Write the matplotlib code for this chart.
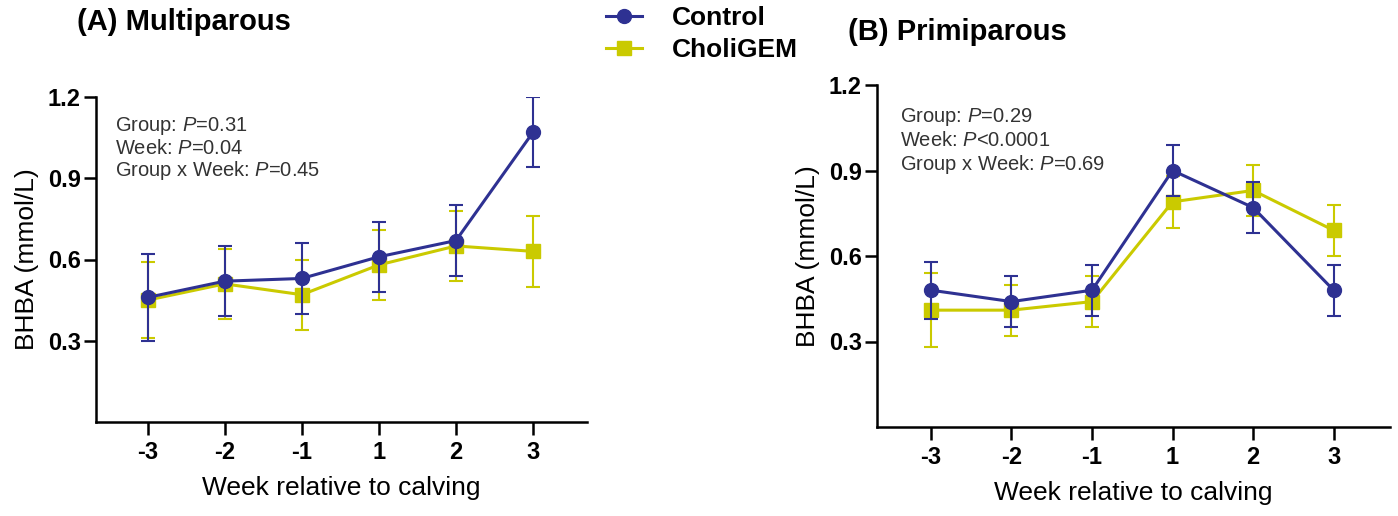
import matplotlib
matplotlib.use("Agg")
import matplotlib.pyplot as plt
from matplotlib.lines import Line2D

plt.rcParams['font.family'] = ['Liberation Sans', 'DejaVu Sans']
plt.rcParams['mathtext.fontset'] = 'custom'
plt.rcParams['mathtext.it'] = 'Liberation Sans:italic'
plt.rcParams['mathtext.rm'] = 'Liberation Sans'

weeks = ["-3", "-2", "-1", "1", "2", "3"]

# Panel A: Multiparous
multi_control = [0.46, 0.52, 0.53, 0.61, 0.67, 1.07]
multi_control_err = [0.16, 0.13, 0.13, 0.13, 0.13, 0.13]
multi_choli = [0.45, 0.51, 0.47, 0.58, 0.65, 0.63]
multi_choli_err = [0.14, 0.13, 0.13, 0.13, 0.13, 0.13]

# Panel B: Primiparous
primi_control = [0.48, 0.44, 0.48, 0.90, 0.77, 0.48]
primi_control_err = [0.10, 0.09, 0.09, 0.09, 0.09, 0.09]
primi_choli = [0.41, 0.41, 0.44, 0.79, 0.83, 0.69]
primi_choli_err = [0.13, 0.09, 0.09, 0.09, 0.09, 0.09]

titles = ["(A) Multiparous", "(B) Primiparous"]
stats_A = ["Group: $\\it{P}$=0.31", "Week: $\\it{P}$=0.04", "Group x Week: $\\it{P}$=0.45"]
stats_B = ["Group: $\\it{P}$=0.29", "Week: $\\it{P}$<0.0001", "Group x Week: $\\it{P}$=0.69"]
yticks = [0.3, 0.6, 0.9, 1.2]
legend_labels = ["Control", "CholiGEM"]

BLUE = "#2E3192"
YELLOW = "#CACA00"

fig = plt.figure(figsize=(13.98, 5.16), dpi=100)
axA = fig.add_axes([96/1398, 1-422/516, (587-96)/1398, (422-97)/516])
axB = fig.add_axes([877/1398, 1-427/516, (1390-877)/1398, (427-85)/516])

def draw(ax, c, ce, g, ge, stats, tx, ty):
    x = list(range(len(weeks)))
    ax.errorbar(x, g, yerr=ge, color=YELLOW, marker='s', markersize=10, lw=2.2,
                elinewidth=1.5, capsize=5, capthick=1.5, zorder=3)
    ax.errorbar(x, c, yerr=ce, color=BLUE, marker='o', markersize=10, lw=2.2,
                elinewidth=1.5, capsize=5, capthick=1.5, zorder=4)
    ax.set_xlim(-0.67, 5.7)
    ax.set_ylim(0, 1.2)
    ax.set_xticks(x)
    ax.set_xticklabels(weeks, fontsize=17, fontweight='bold')
    ax.set_yticks(yticks)
    ax.set_yticklabels([f"{v:.1f}" for v in yticks], fontsize=17, fontweight='bold')
    for s in ['top', 'right']:
        ax.spines[s].set_visible(False)
    for s in ['left', 'bottom']:
        ax.spines[s].set_linewidth(1.8)
    ax.tick_params(width=1.8, length=9, direction='out')
    ax.tick_params(axis='x', pad=5)
    ax.tick_params(axis='y', pad=2)
    ax.set_xlabel("Week relative to calving", fontsize=19, labelpad=8)
    ax.set_ylabel("BHBA (mmol/L)", fontsize=19, labelpad=6)
    for i, s in enumerate(stats):
        ax.text(tx, ty - i*0.069, s, transform=ax.transAxes, fontsize=14.5,
                color="#333333", va='center', ha='left')

draw(axA, multi_control, multi_control_err, multi_choli, multi_choli_err, stats_A, 0.039, 0.911)
draw(axB, primi_control, primi_control_err, primi_choli, primi_choli_err, stats_B, 0.045, 0.906)

fig.text(77/1398, 1-22/516, titles[0], fontsize=21, fontweight='bold', va='center', ha='left')
fig.text(848/1398, 1-32/516, titles[1], fontsize=21, fontweight='bold', va='center', ha='left')

handles = [Line2D([], [], color=BLUE, marker='o', markersize=10, lw=2.2),
           Line2D([], [], color=YELLOW, marker='s', markersize=10, lw=2.2)]
fig.legend(handles, legend_labels, loc='center', bbox_to_anchor=(702/1398, 1-34/516),
           frameon=False, prop={'size': 19, 'weight': 'bold'}, handlelength=1.35,
           labelspacing=0.32, handletextpad=1.15, borderaxespad=0)

fig.savefig("out.png", dpi=100)
